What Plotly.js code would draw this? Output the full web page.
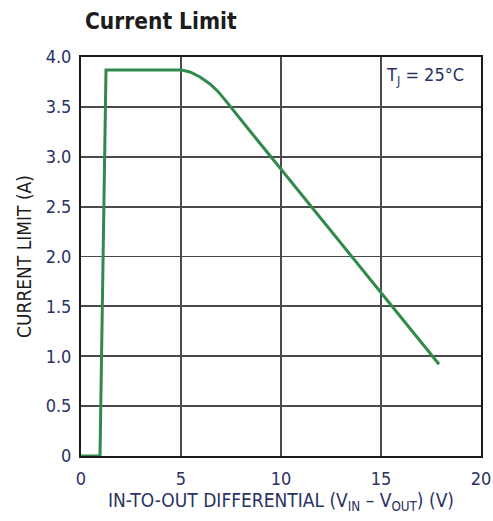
<!DOCTYPE html>
<html>
<head>
<meta charset="utf-8">
<script src="https://cdn.plot.ly/plotly-3.0.1.min.js"></script>
<style>html,body{margin:0;padding:0;background:#fff;}#chart{width:493px;height:521px;}</style>
</head>
<body>
<div id="chart"></div>
<script>
// Data
const diffVoltage = [0, 0.95, 1.25, 5.03, 5.45, 5.95, 6.45, 6.87, 7.2, 7.53, 7.87, 8.6, 9.78, 17.9];
const currentLimit = [0, 0, 3.87, 3.87, 3.85, 3.80, 3.73, 3.65, 3.57, 3.49, 3.40, 3.22, 2.93, 0.92];
const xTickVals = [0, 5, 10, 15, 20];
const xTickText = ['0', '5', '10', '15', '20'];
const yTickVals = [0, 0.5, 1.0, 1.5, 2.0, 2.5, 3.0, 3.5, 4.0];
const yTickText = ['0', '0.5', '1.0', '1.5', '2.0', '2.5', '3.0', '3.5', '4.0'];

const FONT = '"DejaVu Sans Condensed", "Liberation Sans Narrow", sans-serif';
const LABEL = '#2a3163';

const trace = {
  x: diffVoltage, y: currentLimit, type: 'scatter', mode: 'lines',
  line: {color: '#2f8a4c', width: 3}, cliponaxis: false, hoverinfo: 'skip'
};

const layout = {
  width: 493, height: 521,
  margin: {l: 81, r: 12, t: 57, b: 65},
  paper_bgcolor: '#fff', plot_bgcolor: '#fff',
  showlegend: false,
  title: {
    text: '<b>Current Limit</b>', xref: 'container', x: 85 / 493, xanchor: 'left',
    yref: 'container', y: 1 - 21 / 521, yanchor: 'middle',
    font: {family: FONT, size: 22.5, color: '#1c1c1c'}
  },
  xaxis: {
    range: [0, 20], tickvals: xTickVals, ticktext: xTickText,
    showgrid: true, gridcolor: '#4a4a4a', gridwidth: 1.8,
    showline: true, linecolor: '#1a1a1a', linewidth: 2, mirror: true,
    zeroline: false, ticks: '', layer: 'below traces', ticklabelstandoff: 5,
    tickfont: {family: FONT, size: 18, color: LABEL},
    title: {text: 'IN-TO-OUT DIFFERENTIAL (V<sub>IN</sub> – V<sub>OUT</sub>) (V)', standoff: 4,
            font: {family: FONT, size: 19, color: LABEL}}
  },
  yaxis: {
    range: [0, 4], tickvals: yTickVals, ticktext: yTickText,
    showgrid: true, gridcolor: '#4a4a4a', gridwidth: 1.8,
    showline: true, linecolor: '#1a1a1a', linewidth: 2, mirror: true,
    zeroline: false, ticks: '', layer: 'below traces', ticklabelstandoff: 4,
    tickfont: {family: FONT, size: 18, color: LABEL},
    title: {text: 'CURRENT LIMIT (A)', standoff: 9,
            font: {family: FONT, size: 19, color: '#1c1c1c'}}
  },
  annotations: [{
    text: 'T<sub>J</sub> = 25°C', xref: 'x', yref: 'y', x: 19.35, y: 3.81,
    xanchor: 'right', yanchor: 'middle', showarrow: false,
    bgcolor: '#fff', borderpad: 3,
    font: {family: FONT, size: 18, color: LABEL}
  }]
};

Plotly.newPlot('chart', [trace], layout, {staticPlot: true, displayModeBar: false});
</script>
</body>
</html>
